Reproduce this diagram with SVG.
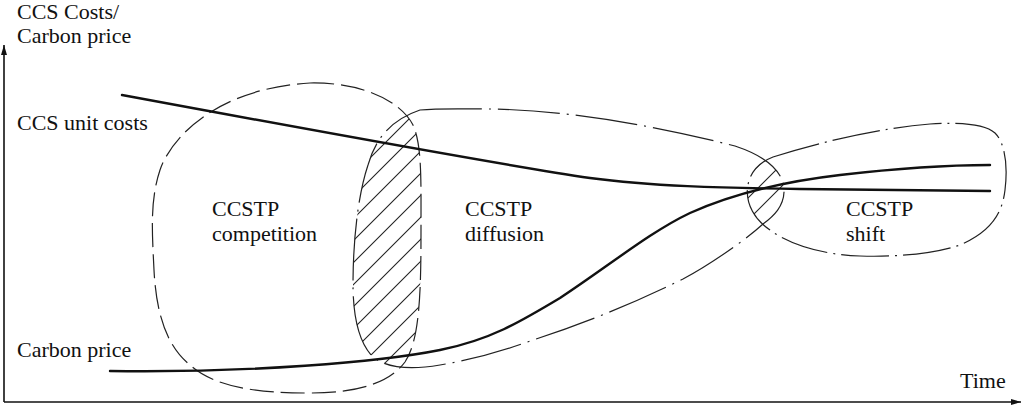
<svg xmlns="http://www.w3.org/2000/svg" width="1024" height="406" viewBox="0 0 1024 406">
<style>
.t{font-family:"Liberation Serif","Times New Roman",Tinos,"Nimbus Roman","Noto Serif","DejaVu Serif",serif;font-size:22px;fill:#111}
.blob{fill:none;stroke:#222;stroke-width:1.2}
.comp{stroke-dasharray:24,7}
.diff{stroke-dasharray:62,7,2,7}
.shift{stroke-dasharray:48,6,2,6}
.curve{fill:none;stroke:#111;stroke-width:2.4;stroke-linecap:round}
.axis{fill:none;stroke:#111;stroke-width:1.6}
</style>
<defs>
<pattern id="hatch" patternUnits="userSpaceOnUse" width="22" height="22">
<path d="M0,22 L22,0 M-6,6 L6,-6 M16,28 L28,16" stroke="#222" stroke-width="1.1"/>
</pattern>
<marker id="arr" viewBox="0 0 10 6" refX="10" refY="3" markerWidth="10" markerHeight="6" markerUnits="userSpaceOnUse" orient="auto">
<path d="M0,0 L10,3 L0,6 Z" fill="#111"/>
</marker>
<path id="pComp" d="M310,83 C360,82 400,100 413,125 C422,145 421,180 421,230 C421,290 420,340 405,362 C390,382 360,393 310,393 C260,393 215,388 190,365 C165,345 156,310 154,270 C152,230 150,200 160,170 C172,135 220,88 310,83 Z"/>
<path id="pDiff" d="M420,110 C440,108 465,109 490,109 C570,110 660,127 735,146 C765,156 782,170 784,188 C785,205 775,215 763,224 C740,245 700,270 683,279 C630,305 580,325 533,340 C500,352 470,360 440,365 C410,370 385,368 372,356 C357,340 353,310 353,285 C353,240 358,195 368,165 C375,140 390,120 420,110 Z"/>
<path id="pShift" d="M773,157 C820,142 880,128 930,124 C960,122 985,124 995,133 C1005,143 1008,165 1005,190 C1002,215 990,232 960,245 C930,255 890,257 860,256 C825,255 790,245 770,230 C752,218 745,200 748,185 C750,172 760,162 773,157 Z"/>
<clipPath id="clipComp"><use href="#pComp"/></clipPath>
<clipPath id="clipShift"><use href="#pShift"/></clipPath>
</defs>
<g id="axes">
<path class="axis" d="M4,402 L4,45" marker-end="url(#arr)"/>
<path class="axis" d="M4,402 L1021,402" marker-end="url(#arr)"/>
<text class="t" x="17" y="19">CCS Costs/</text>
<text class="t" x="17" y="43">Carbon price</text>
<text class="t" x="960" y="388">Time</text>
</g>
<g id="hatching">
<g clip-path="url(#clipComp)"><use href="#pDiff" fill="url(#hatch)"/></g>
<g clip-path="url(#clipShift)"><use href="#pDiff" fill="url(#hatch)"/></g>
</g>
<g id="competition">
<use href="#pComp" class="blob comp"/>
<text class="t" x="212" y="216">CCSTP</text>
<text class="t" x="212" y="241">competition</text>
</g>
<g id="diffusion">
<use href="#pDiff" class="blob diff"/>
<text class="t" x="465" y="216">CCSTP</text>
<text class="t" x="465" y="241">diffusion</text>
</g>
<g id="shift">
<use href="#pShift" class="blob shift"/>
<text class="t" x="846" y="216">CCSTP</text>
<text class="t" x="846" y="241">shift</text>
</g>
<g id="connectors">
<path id="costCurve" class="curve" d="M122,95 C300,128 500,165 590,178 C650,186 720,188 800,189 L990,191"/>
<path id="carbonCurve" class="curve" d="M110,371 C250,373 380,362 440,350 C490,340 520,322 560,298 C610,265 650,232 690,213 C730,195 780,182 840,175 C900,168 950,165 990,165"/>
<text class="t" x="17" y="130">CCS unit costs</text>
<text class="t" x="17" y="357">Carbon price</text>
</g>
</svg>
